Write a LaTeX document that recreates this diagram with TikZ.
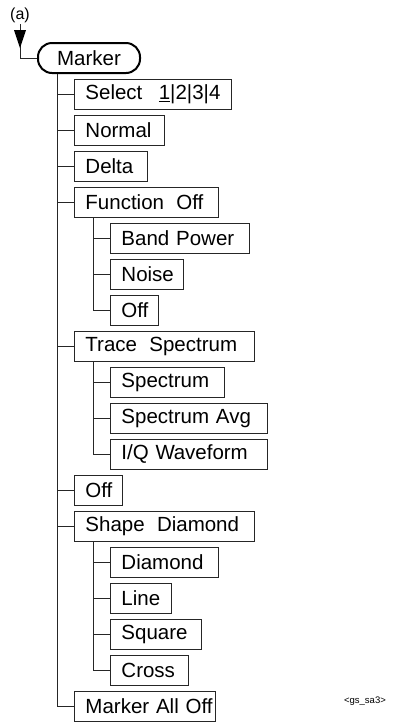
\documentclass[tikz,border=0pt]{standalone}
\usepackage{fontspec}
\setmainfont{Liberation Sans}
\newcommand{\bxt}[1]{\mbox{#1}}
\begin{document}
\begin{tikzpicture}[x=1pt,y=-1pt,
  box/.style={draw=black!85, line width=0.9pt, minimum height=30pt, inner xsep=11pt, inner ysep=0pt,
    anchor=north west, align=left, font=\fontsize{20.5}{24}\selectfont},
  root/.style={draw=black, line width=2pt, rounded corners=14pt, minimum height=30pt, minimum width=102pt,
    anchor=north west, inner sep=0pt, font=\fontsize{20.5}{24}\selectfont},
  conn/.style={line width=0.9pt, draw=black!85}]
\useasboundingbox (0,0) rectangle (401,724);
\node[font=\fontsize{16}{18}\selectfont, inner sep=0pt] (lbl) at (20,15) {(a)};
\node[root] (marker) at (37,42) {Marker};
\coordinate (arrtop) at (20,24);
\draw[conn] (arrtop) |- (marker.west);
\fill (14,30) -- (26,30) -- (20,48) -- cycle;
% level 1
\node[box, text width=135pt] (sel) at (74,79) {\bxt{Select\hspace{0.8em}\underline{1}|2|3|4}};
\node[box, text width=68pt] (nor) at (74,115) {\bxt{Normal}};
\node[box, text width=51pt] (del) at (74,151) {\bxt{Delta}};
\node[box, text width=122pt] (fun) at (74,187) {\bxt{Function\hspace{0.6em}Off}};
\node[box, text width=117pt] (bp) at (110,223) {\bxt{Band Power}};
\node[box, text width=51pt] (noi) at (110,259) {\bxt{Noise}};
\node[box, text width=26pt] (foff) at (110,295) {\bxt{Off}};
\node[box, text width=158pt] (tr) at (74,331) {\bxt{Trace\hspace{0.6em}Spectrum}};
\node[box, text width=92pt] (sp) at (110,367) {\bxt{Spectrum}};
\node[box, text width=135pt] (spa) at (110,403) {\bxt{Spectrum Avg}};
\node[box, text width=135pt] (iq) at (110,439) {\bxt{I/Q W\kern-0.06em aveform}};
\node[box, text width=26pt] (off) at (74,475) {\bxt{Off}};
\node[box, text width=158pt] (sh) at (74,511) {\bxt{Shape\hspace{0.6em}Diamond}};
\node[box, text width=86pt] (dia) at (110,547) {\bxt{Diamond}};
\node[box, text width=39pt] (lin) at (110,583) {\bxt{Line}};
\node[box, text width=69pt] (squ) at (110,619) {\bxt{Square}};
\node[box, text width=56pt] (cro) at (110,655) {\bxt{Cross}};
\node[box, text width=119pt] (mao) at (74,691) {\bxt{Marker All Off}};
\node[font=\fontsize{9.5}{11}\selectfont, inner sep=0pt] (tag) at (365,701) {<gs\_sa3>};
% connectors
\coordinate (m0) at ([xshift=20pt]marker.south west);
\foreach \n in {sel,nor,del,fun,tr,off,sh,mao} \draw[conn] (m0) |- (\n.west);
\coordinate (f0) at ([xshift=19pt]fun.south west);
\foreach \n in {bp,noi,foff} \draw[conn] (f0) |- (\n.west);
\coordinate (t0) at ([xshift=19pt]tr.south west);
\foreach \n in {sp,spa,iq} \draw[conn] (t0) |- (\n.west);
\coordinate (s0) at ([xshift=19pt]sh.south west);
\foreach \n in {dia,lin,squ,cro} \draw[conn] (s0) |- (\n.west);
\end{tikzpicture}
\end{document}
